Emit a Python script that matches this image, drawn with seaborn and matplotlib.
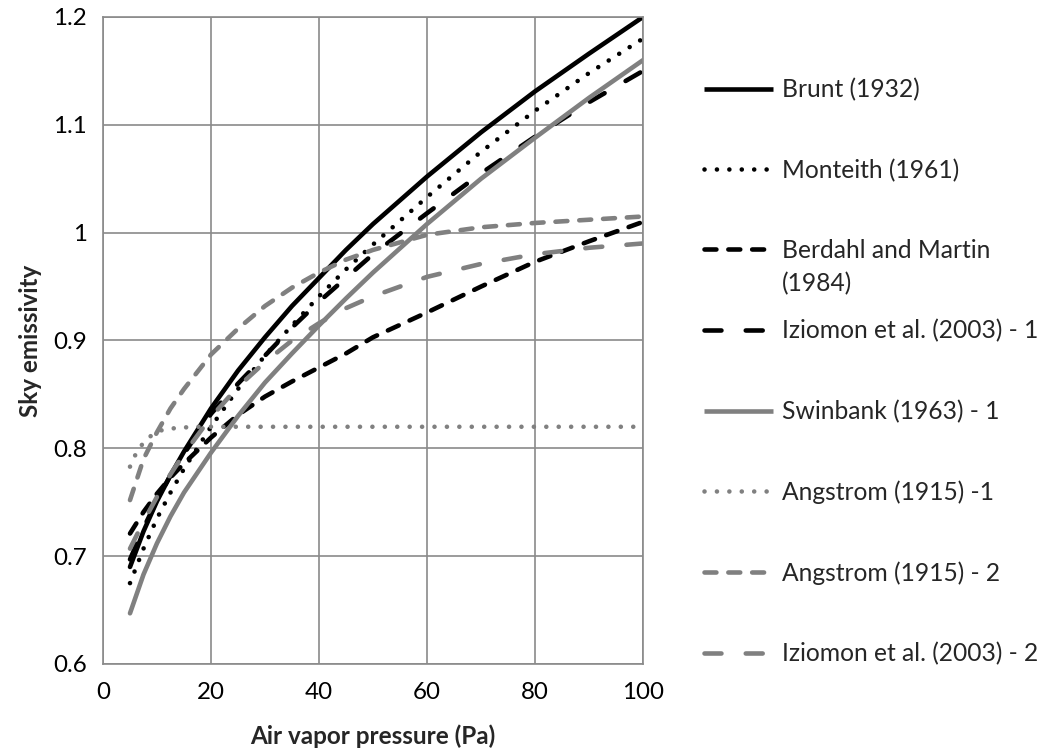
import matplotlib
matplotlib.use("Agg")
import matplotlib.pyplot as plt
import seaborn as sns
from matplotlib.lines import Line2D

# ---------------- data ----------------
x_main = [5, 7.5, 10, 12.5, 15, 20, 25, 30, 35, 40, 45, 50, 60, 70, 80, 90, 100]
brunt = [0.690, 0.723, 0.751, 0.775, 0.797, 0.837, 0.872, 0.903, 0.932, 0.958,
         0.984, 1.008, 1.052, 1.093, 1.131, 1.166, 1.200]
monteith = [0.675, 0.707, 0.735, 0.759, 0.781, 0.820, 0.855, 0.886, 0.914, 0.941,
            0.966, 0.989, 1.033, 1.075, 1.113, 1.148, 1.180]
berdahl = [0.721, 0.741, 0.758, 0.773, 0.786, 0.810, 0.831, 0.848, 0.862, 0.875,
           0.888, 0.903, 0.926, 0.950, 0.973, 0.992, 1.010]
iziomon1 = [0.697, 0.726, 0.752, 0.775, 0.795, 0.832, 0.860, 0.886, 0.912, 0.936,
            0.958, 0.980, 1.018, 1.055, 1.089, 1.121, 1.150]
swinbank = [0.647, 0.683, 0.712, 0.737, 0.759, 0.796, 0.830, 0.861, 0.888, 0.914,
            0.939, 0.963, 1.008, 1.050, 1.088, 1.125, 1.160]
x_ang1 = [5, 6, 7, 8, 9, 10, 11, 12, 14, 17, 20, 40, 60, 80, 100]
angstrom1 = [0.783, 0.794, 0.802, 0.808, 0.812, 0.815, 0.817, 0.818, 0.819, 0.820,
             0.820, 0.820, 0.820, 0.820, 0.820]
x_ang2 = [5, 7.5, 10, 12.5, 15, 20, 25, 30, 35, 40, 45, 50, 60, 70, 80, 90, 100]
angstrom2 = [0.752, 0.790, 0.815, 0.837, 0.855, 0.887, 0.911, 0.932, 0.949, 0.963,
             0.975, 0.984, 0.998, 1.005, 1.009, 1.012, 1.015]
iziomon2 = [0.707, 0.732, 0.755, 0.776, 0.795, 0.829, 0.857, 0.880, 0.900, 0.916,
            0.930, 0.941, 0.959, 0.971, 0.980, 0.986, 0.990]

labels = ["Brunt (1932)", "Monteith (1961)", "Berdahl and Martin", "Iziomon et al. (2003) - 1",
          "Swinbank (1963) - 1", "Angstrom (1915) -1", "Angstrom (1915) - 2",
          "Iziomon et al. (2003) - 2"]
label_cont = "(1984)"
x_ticks = [0, 20, 40, 60, 80, 100]
y_ticks = [0.6, 0.7, 0.8, 0.9, 1.0, 1.1, 1.2]
y_tick_labels = ["0.6", "0.7", "0.8", "0.9", "1", "1.1", "1.2"]
x_title = "Air vapor pressure (Pa)"
y_title = "Sky emissivity"

# ---------------- style ----------------
sns.set_theme(style="white")
plt.rcParams["font.family"] = ["Lato", "DejaVu Sans"]

W, H = 1046, 755
BLACK = "#000000"
GRAY = "#808080"
GRID = "#8a8a8a"
LW = 3.3
DOT = (0, (0.01, 2.7))
SHORT = (0, (2.6, 2.6))
LONG = (0, (3.7, 5.3))

series = [
    (x_main, brunt, BLACK, "-"),
    (x_main, monteith, BLACK, DOT),
    (x_main, berdahl, BLACK, SHORT),
    (x_main, iziomon1, BLACK, LONG),
    (x_main, swinbank, GRAY, "-"),
    (x_ang1, angstrom1, GRAY, DOT),
    (x_ang2, angstrom2, GRAY, SHORT),
    (x_main, iziomon2, GRAY, LONG),
]

fig = plt.figure(figsize=(W / 100, H / 100), dpi=100)
ax = fig.add_axes([103 / W, 1 - 664 / H, 540 / W, 647 / H])


def fit_size(text, target_px, weight="normal"):
    t = fig.text(0, 0, text, fontsize=10, fontweight=weight)
    fig.canvas.draw()
    w = t.get_window_extent().width
    t.remove()
    return 10 * target_px / w


fs_leg = fit_size("Iziomon et al. (2003) - 1", 257)
fs_tick = fs_leg * 0.98
fs_title = fit_size(x_title, 246, "bold")
px_leg = fs_leg * 100 / 72

handles = []
for (xs, ys, col, ls), lab in zip(series, labels):
    sns.lineplot(x=xs, y=ys, ax=ax, color=col, linestyle=ls, linewidth=LW,
                 solid_capstyle="round", dash_capstyle="round", legend=False,
                 sort=False, estimator=None)
    handles.append(Line2D([], [], color=col, linestyle=ls, linewidth=LW,
                          solid_capstyle="butt", dash_capstyle="round"))

ax.set_xlim(0, 100)
ax.set_ylim(0.6, 1.2)
ax.set_xticks(x_ticks)
ax.set_yticks(y_ticks)
ax.set_yticklabels(y_tick_labels)
ax.grid(True, color=GRID, linewidth=1.2)
ax.set_axisbelow(True)
for sp in ax.spines.values():
    sp.set_color(GRID)
    sp.set_linewidth(1.2)
ax.tick_params(axis="both", length=0, labelsize=fs_tick, colors="black")
ax.tick_params(axis="y", pad=11.5)
ax.tick_params(axis="x", pad=13)

ax.set_xlabel(x_title, fontsize=fs_title, fontweight="bold")
ax.set_ylabel(y_title, fontsize=fs_title, fontweight="bold")
ax.xaxis.set_label_coords(0.5, (664 - 724) / 647)
ax.yaxis.set_label_coords((42 - 103) / 540, 0.5)

# ---------------- legend ----------------
target_first, target_step = 89.6, 80.6
anchor_y = 1 - 76 / H
spacing = 2.8
leg = None
for _ in range(3):
    if leg is not None:
        leg.remove()
    leg = fig.legend(handles, labels, loc="upper left",
                     bbox_to_anchor=(704 / W, anchor_y), frameon=False,
                     fontsize=fs_leg, handlelength=69 / px_leg,
                     handletextpad=9 / px_leg, labelspacing=spacing,
                     borderpad=0, borderaxespad=0)
    fig.canvas.draw()
    ys = []
    for t in leg.get_texts():
        bb = t.get_window_extent()
        ys.append(H - (bb.y0 + bb.y1) / 2)
    step = (ys[-1] - ys[0]) / 7
    spacing += (target_step - step) / px_leg
    anchor_y += (ys[0] - target_first) / H

fig.canvas.draw()
bb = leg.get_texts()[2].get_window_extent()
fig.text(bb.x0 / W, ((bb.y0 + bb.y1) / 2 - 33) / H, label_cont,
         fontsize=fs_leg, va="center", ha="left")

fig.savefig("out.png", dpi=100)
